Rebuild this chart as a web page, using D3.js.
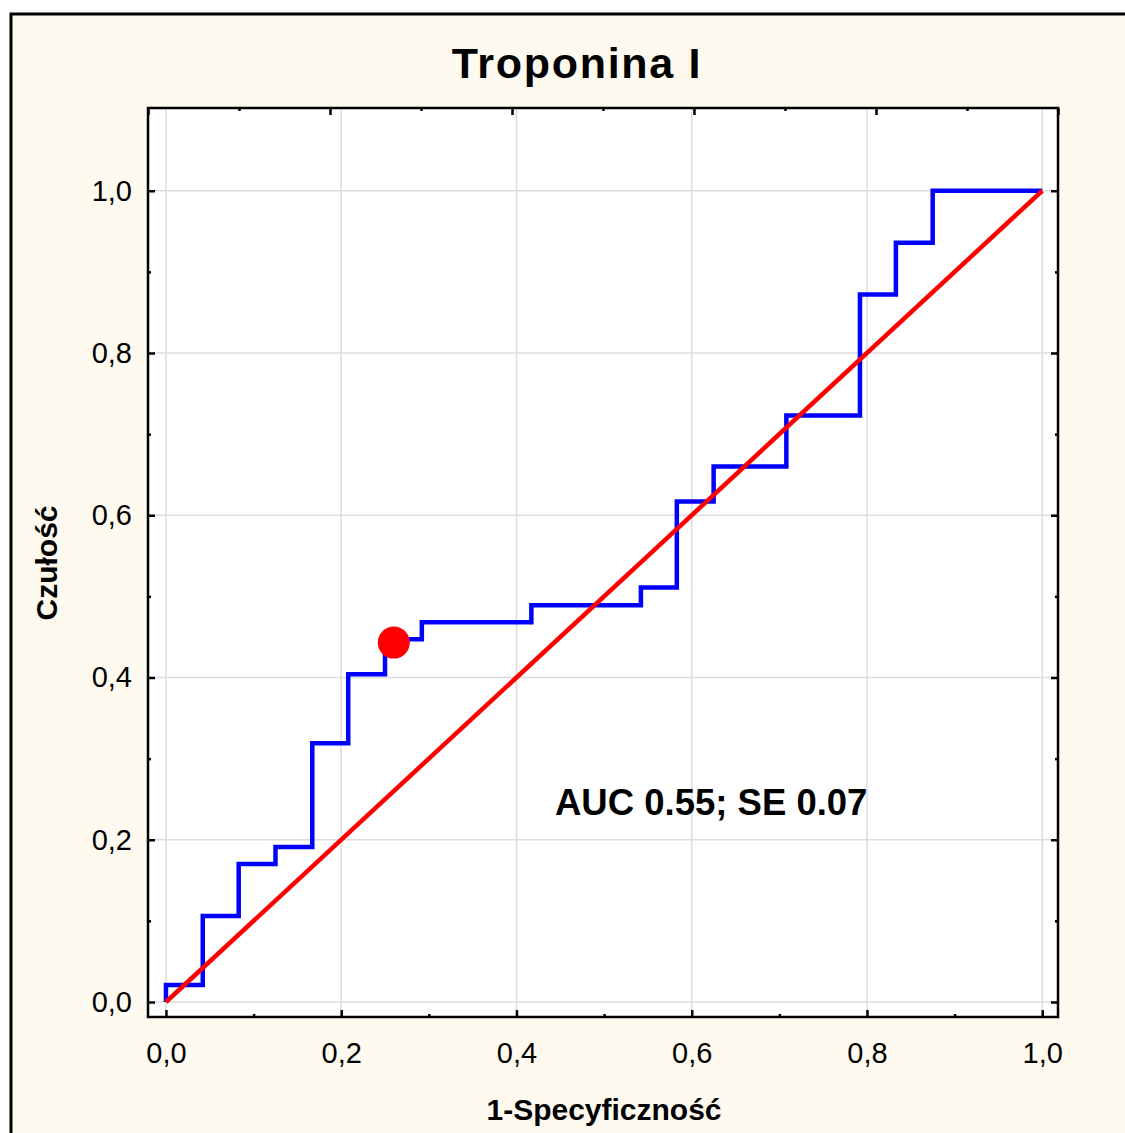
<!DOCTYPE html>
<html lang="pl">
<head>
<meta charset="utf-8">
<title>Troponina I</title>
<script src="https://cdn.jsdelivr.net/npm/d3@7"></script>
<style>
  body { margin: 0; background: #ffffff; }
  text { font-family: "Liberation Sans", Arial, sans-serif; fill: #000; }
</style>
</head>
<body>
<script>

var width = 1125;
var height = 1133;

// ROC curve corners (1-specificity, sensitivity)
var fprValues = [0, 0.042, 0.083, 0.125, 0.167, 0.208, 0.250, 0.292, 0.417, 0.542, 0.583, 0.625, 0.708, 0.792, 0.833, 0.875, 1.000];
var tprValues = [0, 0.021, 0.106, 0.170, 0.191, 0.319, 0.404, 0.447, 0.468, 0.489, 0.511, 0.617, 0.660, 0.723, 0.872, 0.936, 1.000];

// reference line and cut-off point
var diagX = [0, 1];
var diagY = [0, 1];
var cutPoint = [0.26, 0.443];

var majorTicks = [0, 0.2, 0.4, 0.6, 0.8, 1.0];
var minorTicks = [0.1, 0.3, 0.5, 0.7, 0.9];

var titleText = "Troponina I";
var xTitle = "1-Specyficzność";
var yTitle = "Czułość";
var aucText = "AUC 0.55; SE 0.07";

var plot = {left: 148, top: 108, right: 1058, bottom: 1017};

var svg = d3.select("body").append("svg")
    .attr("width", width)
    .attr("height", height);

// outer panel
svg.append("rect")
    .attr("x", 11).attr("y", 14)
    .attr("width", width + 20).attr("height", height + 20)
    .attr("fill", "#fffaf0")
    .attr("stroke", "#000")
    .attr("stroke-width", 3);

svg.append("rect")
    .attr("x", plot.left).attr("y", plot.top)
    .attr("width", plot.right - plot.left)
    .attr("height", plot.bottom - plot.top)
    .attr("fill", "#fff");

var x = d3.scaleLinear().domain([-0.0205, 1.018]).range([plot.left, plot.right]);
var y = d3.scaleLinear().domain([-0.0185, 1.102]).range([plot.bottom, plot.top]);
// top axis in Statistica spans the whole frame
var xTop = d3.scaleLinear().domain([0, 1]).range([plot.left, plot.right]);

var fmt = (d) => d3.format(".1f")(d).replace(".", ",");

// grid
svg.append("g").selectAll("line")
    .data(majorTicks).enter().append("line")
    .attr("x1", (d) => x(d)).attr("x2", (d) => x(d))
    .attr("y1", plot.top).attr("y2", plot.bottom)
    .attr("stroke", "#dcdcdc").attr("stroke-width", 1.5);
svg.append("g").selectAll("line")
    .data(majorTicks).enter().append("line")
    .attr("y1", (d) => y(d)).attr("y2", (d) => y(d))
    .attr("x1", plot.left).attr("x2", plot.right)
    .attr("stroke", "#dcdcdc").attr("stroke-width", 1.5);

function styleAxis(g) {
    g.select(".domain").remove();
    g.selectAll("line").attr("stroke", "#000").attr("stroke-width", 2.5);
    g.selectAll("text").attr("font-size", 29).attr("fill", "#000");
}

// bottom
svg.append("g").attr("transform", `translate(0,${plot.bottom})`)
    .call(d3.axisBottom(x).tickValues(majorTicks).tickSize(-7).tickPadding(25).tickFormat(fmt))
    .call(styleAxis);
svg.append("g").attr("transform", `translate(0,${plot.bottom})`)
    .call(d3.axisBottom(x).tickValues(minorTicks).tickSize(-3).tickFormat(""))
    .call(styleAxis);

// left
svg.append("g").attr("transform", `translate(${plot.left},0)`)
    .call(d3.axisLeft(y).tickValues(majorTicks).tickSize(-7).tickPadding(16).tickFormat(fmt))
    .call(styleAxis);
svg.append("g").attr("transform", `translate(${plot.left},0)`)
    .call(d3.axisLeft(y).tickValues(minorTicks).tickSize(-3).tickFormat(""))
    .call(styleAxis);

// right
svg.append("g").attr("transform", `translate(${plot.right},0)`)
    .call(d3.axisRight(y).tickValues(majorTicks).tickSize(-7).tickFormat(""))
    .call(styleAxis);
svg.append("g").attr("transform", `translate(${plot.right},0)`)
    .call(d3.axisRight(y).tickValues(minorTicks).tickSize(-3).tickFormat(""))
    .call(styleAxis);

// top
svg.append("g").attr("transform", `translate(0,${plot.top})`)
    .call(d3.axisTop(xTop).tickValues(majorTicks).tickSize(-7).tickFormat(""))
    .call(styleAxis);
svg.append("g").attr("transform", `translate(0,${plot.top})`)
    .call(d3.axisTop(xTop).tickValues(minorTicks).tickSize(-3).tickFormat(""))
    .call(styleAxis);

// frame
svg.append("rect")
    .attr("x", plot.left).attr("y", plot.top)
    .attr("width", plot.right - plot.left)
    .attr("height", plot.bottom - plot.top)
    .attr("fill", "none")
    .attr("stroke", "#000")
    .attr("stroke-width", 2.5);

// ROC step curve
var rocLine = d3.line()
    .x((d, i) => x(fprValues[i]))
    .y((d, i) => y(tprValues[i]))
    .curve(d3.curveStepBefore);

svg.append("path")
    .attr("d", rocLine(fprValues))
    .attr("fill", "none")
    .attr("stroke", "#0000ff")
    .attr("stroke-width", 4.5);

var diag = d3.line()
    .x((d, i) => x(diagX[i]))
    .y((d, i) => y(diagY[i]));

svg.append("path")
    .attr("d", diag(diagX))
    .attr("fill", "none")
    .attr("stroke", "#ff0000")
    .attr("stroke-width", 4.5);

svg.append("circle")
    .attr("cx", x(cutPoint[0]))
    .attr("cy", y(cutPoint[1]))
    .attr("r", 16)
    .attr("fill", "#ff0000");

// texts
svg.append("text")
    .attr("x", 577).attr("y", 78)
    .attr("text-anchor", "middle")
    .attr("font-size", 43)
    .attr("font-weight", "bold")
    .attr("letter-spacing", 1.7)
    .text(titleText);

svg.append("text")
    .attr("x", 555).attr("y", 815)
    .attr("font-size", 36.5)
    .attr("font-weight", "bold")
    .text(aucText);

svg.append("text")
    .attr("x", 604).attr("y", 1120)
    .attr("text-anchor", "middle")
    .attr("font-size", 30)
    .attr("font-weight", "bold")
    .text(xTitle);

svg.append("text")
    .attr("transform", "translate(57,563) rotate(-90)")
    .attr("text-anchor", "middle")
    .attr("font-size", 30)
    .attr("font-weight", "bold")
    .text(yTitle);

</script>
</body>
</html>
